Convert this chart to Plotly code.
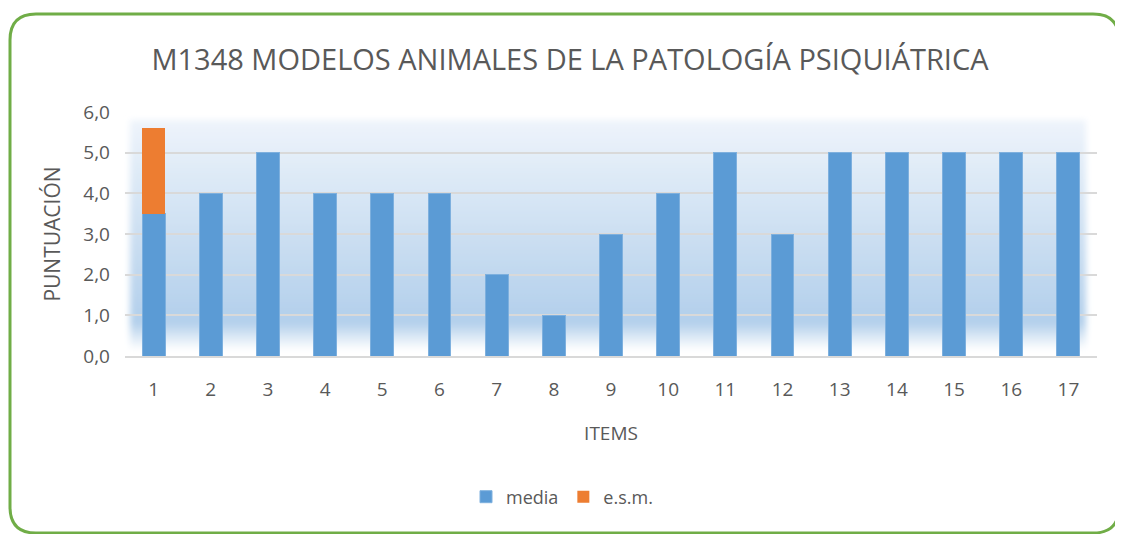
import base64
import plotly.graph_objects as go

items = [str(i) for i in range(1, 18)]
media = [3.5, 4, 5, 4, 4, 4, 2, 1, 3, 4, 5, 3, 5, 5, 5, 5, 5]
esm = [2.1] + [0] * 16
y_ticks = [0, 1, 2, 3, 4, 5, 6]
y_tick_labels = ["0,0", "1,0", "2,0", "3,0", "4,0", "5,0", "6,0"]

OFF = 8  # page body margin
W, H = 1123 - OFF, 534 - OFF
# plot area in screen coords: x 125..1097, y 112..356
SX0, SX1, SY0, SY1 = 125, 1097, 112, 356
L, R, T, B = SX0 - OFF, (1123 - SX1), SY0 - OFF, (534 - SY1)
PW, PH = W - L - R, H - T - B


def px(x):
    return (x - SX0) / PW


def py(y):
    return (SY1 - y) / PH


# soft gradient panel behind bars (decoration)
gx0, gx1, gy0, gy1 = 122, 1094, 112, 356
svg = f'''<svg xmlns="http://www.w3.org/2000/svg" width="{gx1-gx0}" height="{gy1-gy0}">
<defs>
<linearGradient id="g" x1="0" y1="0" x2="0" y2="1">
<stop offset="0" stop-color="#eef4fb"/>
<stop offset="0.88" stop-color="#b2cfeb"/>
<stop offset="1" stop-color="#ffffff"/>
</linearGradient>
<filter id="b" x="-5%" y="-5%" width="110%" height="110%"><feGaussianBlur stdDeviation="3"/></filter>
</defs>
<rect x="8" y="8" width="{gx1-gx0-16}" height="{gy1-gy0-14}" fill="url(#g)" filter="url(#b)"/>
</svg>'''
src = "data:image/svg+xml;base64," + base64.b64encode(svg.encode()).decode()

images = [dict(source=src, xref="paper", yref="paper", x=px(gx0), y=py(gy0),
               sizex=px(gx1) - px(gx0), sizey=py(gy0) - py(gy1),
               xanchor="left", yanchor="top", sizing="stretch", layer="below")]

# rounded green border
bx0, bx1, by0, by1, r = 10, 1119, 14, 533, 26
path = (f"M {px(bx0 + r)},{py(by0)} L {px(bx1 - r)},{py(by0)} "
        f"Q {px(bx1)},{py(by0)} {px(bx1)},{py(by0 + r)} "
        f"L {px(bx1)},{py(by1 - r)} Q {px(bx1)},{py(by1)} {px(bx1 - r)},{py(by1)} "
        f"L {px(bx0 + r)},{py(by1)} Q {px(bx0)},{py(by1)} {px(bx0)},{py(by1 - r)} "
        f"L {px(bx0)},{py(by0 + r)} Q {px(bx0)},{py(by0)} {px(bx0 + r)},{py(by0)} Z")
shapes = [dict(type="path", xref="paper", yref="paper", path=path,
               line=dict(color="#70ad47", width=3), layer="above")]

font_fam = "Open Sans, Noto Sans, sans-serif"
grey = "#595959"

fig = go.Figure()
fig.add_trace(go.Bar(x=items, y=media, name="media",
                     marker=dict(color="#5b9bd5", line=dict(color="#7eb0de", width=1))))
fig.add_trace(go.Bar(x=items, y=esm, name="e.s.m.",
                     marker=dict(color="#ed7d31", line=dict(width=0))))

fig.update_layout(
    width=W, height=H,
    margin=dict(l=L, r=R, t=T, b=B, autoexpand=False),
    barmode="stack", bargap=0.6,
    paper_bgcolor="white", plot_bgcolor="rgba(0,0,0,0)",
    font=dict(family=font_fam, color=grey),
    title=dict(text="M1348 MODELOS ANIMALES DE LA PATOLOGÍA PSIQUIÁTRICA",
               x=(570 - OFF) / W, xanchor="center", y=1 - (60 - OFF) / H, yanchor="middle",
               font=dict(size=29, color=grey, family=font_fam)),
    xaxis=dict(showgrid=False, showline=True, linecolor="#d9d9d9", linewidth=2,
               ticks="", tickfont=dict(size=19, color=grey), ticklabelstandoff=15,
               title=dict(text="ITEMS", font=dict(size=19, color=grey), standoff=26)),
    yaxis=dict(range=[0, 6], tickvals=y_ticks, ticktext=y_tick_labels,
               showgrid=True, gridcolor="#d9d9d9", gridwidth=2, zeroline=False,
               ticks="", tickfont=dict(size=19, color=grey), ticklabelstandoff=14,
               title=dict(text="PUNTUACIÓN", font=dict(size=21, color=grey), standoff=16)),
    legend=dict(orientation="h", x=(562 - SX0) / PW, xanchor="center",
                y=py(497), yanchor="middle",
                font=dict(size=18, color=grey), traceorder="normal",
                itemwidth=30, tracegroupgap=0),
    shapes=shapes,
    images=images,
    showlegend=True,
)

fig.write_html("out.html")
